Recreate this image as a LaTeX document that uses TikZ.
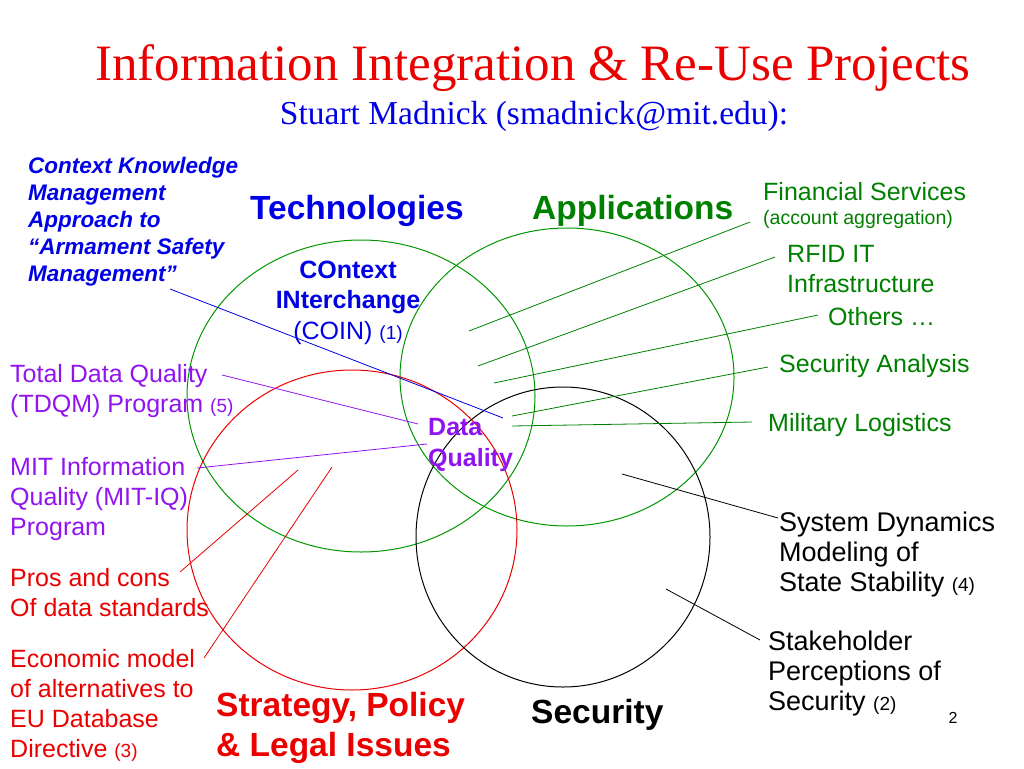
\documentclass[tikz,border=0pt]{standalone}
\usepackage{fontspec}
\setmainfont{Liberation Sans}
\newfontfamily\titlefont{Liberation Serif}
\usepackage{xcolor}
\definecolor{projred}{RGB}{235,0,0}
\definecolor{projblue}{RGB}{0,0,230}
\definecolor{projgreen}{RGB}{0,128,0}
\definecolor{ringgreen}{RGB}{0,150,0}
\definecolor{projpurple}{RGB}{145,20,240}
\usetikzlibrary{positioning}
\newcommand{\fsz}[2]{\fontsize{#1}{#2}\selectfont}

\begin{document}
\begin{tikzpicture}[x=1pt, y=-1pt,
    lbl/.style={anchor=base west, inner sep=0pt, align=left, font=\fsz{25}{30}},
    hdr/.style={anchor=base west, inner sep=0pt, align=left, font=\bfseries\fsz{33.5}{40}},
    ring/.style={line width=1pt},
    lead/.style={line width=0.8pt}]
    \useasboundingbox (0,0) rectangle (1024,768);

    % Title
    \node[anchor=base, inner sep=0pt, text=projred, font=\titlefont\fsz{51}{58}] (title) at (533,80) {Information Integration \& Re-Use Projects};
    \node[anchor=base, inner sep=0pt, text=projblue, font=\titlefont\fsz{33.5}{40}] (author) at (534,124) {Stuart Madnick (smadnick@mit.edu):};

    % The four areas
    \draw[ring, ringgreen] (361,396) ellipse [x radius=174pt, y radius=156pt];
    \draw[ring, ringgreen] (567,377) ellipse [x radius=167pt, y radius=149pt];
    \draw[ring, projred] (352,530) ellipse [x radius=165pt, y radius=160pt];
    \draw[ring, black] (563,537) ellipse [x radius=147pt, y radius=150pt];

    \node[hdr, text=projblue] (tech) at (250,219) {Technologies};
    \node[hdr, text=projgreen] (appl) at (532,219) {Applications};
    \node[hdr, text=projred] (strat) at (216,756) {Strategy, Policy\\\& Legal Issues};
    \node[hdr, text=black] (secu) at (531,723) {Security};

    % Technologies
    \node[lbl, text=projblue, font=\bfseries\itshape\fsz{22.5}{27}] (ckm) at (28,281) {Context Knowledge\\Management\\Approach to\\“Armament Safety\\Management”};
    \node[anchor=base, inner sep=0pt, align=center, text=projblue, font=\fsz{25}{30.5}] (coin) at (348,339) {\textbf{COntext}\\\textbf{INterchange}\\(COIN) {\fsz{19}{30}(1)}};
    \node[lbl, text=projpurple, font=\bfseries\fsz{25}{30.5}] (dq) at (428,466) {Data\\Quality};
    \coordinate (dqtip) at (503,418);
    \draw[lead, projblue] ([shift={(142pt,-8pt)}]ckm.base west) -- (dqtip);

    % Data quality
    \node[lbl, text=projpurple] (tdqm) at (10,412) {Total Data Quality\\(TDQM) Program {\fsz{19}{30}(5)}};
    \node[lbl, text=projpurple] (mitiq) at (10,535) {MIT Information\\Quality (MIT-IQ)\\Program};
    \coordinate (tdqmin) at (418,424);
    \coordinate (mitiqin) at (427,444);
    \draw[lead, projpurple] ([shift={(212pt,37pt)}]tdqm.base west) -- (tdqmin);
    \draw[lead, projpurple] ([shift={(187pt,67pt)}]mitiq.base west) -- (mitiqin);

    % Strategy, policy
    \node[lbl, text=projred] (pros) at (10,616) {Pros and cons\\Of data standards};
    \node[lbl, text=projred] (econ) at (10,757) {Economic model\\of alternatives to\\EU Database\\Directive {\fsz{19}{30}(3)}};
    \coordinate (prosin) at (298,470);
    \coordinate (econin) at (332,467);
    \draw[lead, projred] ([shift={(170pt,44pt)}]pros.base west) -- (prosin);
    \draw[lead, projred] ([shift={(194pt,99pt)}]econ.base west) -- (econin);

    % Applications
    \node[lbl, text=projgreen] (fin) at (763,200) {Financial Services};
    \node[lbl, text=projgreen, font=\fsz{19.5}{24}] (finsub) at (763,224) {(account aggregation)};
    \node[lbl, text=projgreen] (rfid) at (787,292) {RFID IT\\Infrastructure};
    \node[lbl, text=projgreen] (oth) at (828,325) {Others …};
    \node[lbl, text=projgreen] (secan) at (779,372) {Security Analysis};
    \node[lbl, text=projgreen] (mil) at (768,431) {Military Logistics};
    \coordinate (finin) at (469,331);
    \coordinate (rfidin) at (478,366);
    \coordinate (othin) at (494,383);
    \coordinate (secanin) at (512,416);
    \coordinate (milin) at (512,426);
    \draw[lead, projgreen] ([shift={(-13pt,2pt)}]finsub.base west) -- (finin);
    \draw[lead, projgreen] ([shift={(-12pt,35pt)}]rfid.base west) -- (rfidin);
    \draw[lead, projgreen] ([shift={(-10pt,10pt)}]oth.base west) -- (othin);
    \draw[lead, projgreen] ([shift={(-11pt,5pt)}]secan.base west) -- (secanin);
    \draw[lead, projgreen] ([shift={(-16pt,9pt)}]mil.base west) -- (milin);

    % Security
    \node[lbl, font=\fsz{27}{30}] (sysdyn) at (779,591) {System Dynamics\\Modeling of\\State Stability {\fsz{19}{30}(4)}};
    \node[lbl, font=\fsz{27}{30}] (stake) at (768,710) {Stakeholder\\Perceptions of\\Security {\fsz{19}{30}(2)}};
    \coordinate (sysdynin) at (622,474);
    \coordinate (stakein) at (666,589);
    \draw[lead] ([shift={(-1pt,73pt)}]sysdyn.base west) -- (sysdynin);
    \draw[lead] ([shift={(-8pt,70pt)}]stake.base west) -- (stakein);

    % Page number
    \node[anchor=base, inner sep=0pt, font=\fsz{16}{19}] (pageno) at (953,723) {2};
\end{tikzpicture}
\end{document}
